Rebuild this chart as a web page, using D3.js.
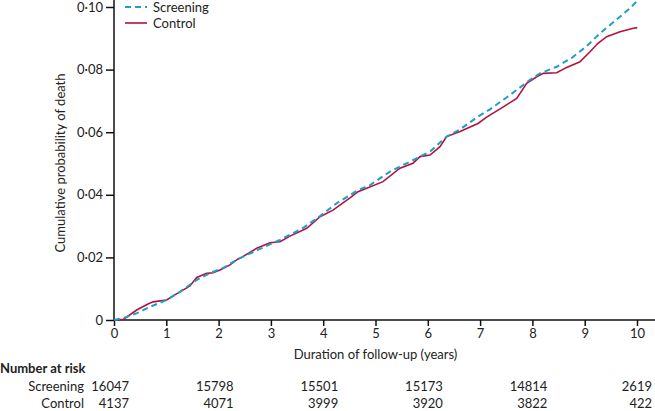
<!DOCTYPE html>
<html><head><meta charset="utf-8">
<script src="https://cdn.jsdelivr.net/npm/d3@7"></script>
<style>
html,body{margin:0;padding:0;background:#fff;}
svg{display:block;font-family:Lato,"Open Sans",sans-serif;}
</style></head>
<body><svg id="c" width="655" height="411"></svg>
<script>
// ---- data ----
const screeningYears = [0,0.172,0.440,0.688,1.008,1.262,1.581,1.836,2.084,2.371,2.792,3.174,3.614,3.939,4.258,4.665,4.895,5.277,5.660,6.042,6.361,6.616,6.960,7.189,7.572,7.954,8.145,8.465,8.782,9.038,9.293,9.675,9.866,10.0];
const screeningProb = [0,0.0006,0.0022,0.0042,0.0064,0.0090,0.0128,0.0150,0.0166,0.0195,0.0227,0.0256,0.0294,0.0332,0.0373,0.0415,0.0431,0.0474,0.0506,0.0538,0.0586,0.0609,0.0650,0.0673,0.0719,0.0767,0.0788,0.0809,0.0841,0.0875,0.0916,0.0969,0.0996,0.1019];
const controlYears = [0,0.178,0.434,0.650,0.746,0.880,1.008,1.128,1.262,1.453,1.581,1.772,1.893,2.027,2.218,2.371,2.409,2.728,2.983,3.174,3.365,3.685,3.939,4.187,4.512,4.665,4.832,5.143,5.468,5.717,5.851,6.042,6.233,6.361,6.616,6.960,7.126,7.444,7.700,7.891,8.082,8.208,8.465,8.656,8.910,9.101,9.254,9.421,9.675,9.929,10.006];
const controlProb = [0,0.0002,0.0032,0.0051,0.0058,0.0061,0.0064,0.0077,0.0090,0.0109,0.0136,0.0149,0.0151,0.0160,0.0176,0.0195,0.0197,0.0229,0.0247,0.0250,0.0268,0.0293,0.0330,0.0351,0.0390,0.0410,0.0421,0.0442,0.0485,0.0501,0.0522,0.0527,0.0554,0.0586,0.0602,0.0628,0.0648,0.0681,0.0708,0.0756,0.0777,0.0788,0.0790,0.0807,0.0825,0.0857,0.0884,0.0905,0.0921,0.0932,0.0934];
const xTicks = [0,1,2,3,4,5,6,7,8,9,10];
const yTicks = [0,0.02,0.04,0.06,0.08,0.10];
const riskYears = [0,2,4,6,8,10];
const screeningRisk = ["16047","15798","15501","15173","14814","2619"];
const controlRisk = ["4137","4071","3999","3920","3822","422"];
const seriesNames = ["Screening","Control"];
const seriesColors = ["#1c9ec6","#b3123e"];

// ---- drawing ----
const FS = 13;
const svg = d3.select("#c");
const x = d3.scaleLinear().domain([0,10]).range([114,637]);
const y = d3.scaleLinear().domain([0,0.10]).range([320,7]);
const fmtY = v => v === 0 ? "0" : d3.format(".2f")(v).replace(".", "\u00B7");

// axes
const xAxis = svg.append("g").attr("transform","translate(0,320)")
  .call(d3.axisBottom(x).tickValues(xTicks).tickSize(6).tickPadding(3).tickFormat(d3.format("d")));
xAxis.select(".domain").remove();
const yAxis = svg.append("g").attr("transform","translate(114,0)")
  .call(d3.axisLeft(y).tickValues(yTicks).tickSize(8).tickPadding(3).tickFormat(fmtY));
yAxis.select(".domain").remove();
[xAxis,yAxis].forEach(g=>{
  g.selectAll("text").attr("font-size",FS).attr("fill","#222").attr("font-family","Lato, 'Open Sans', sans-serif");
  g.selectAll("line").attr("stroke","#111").attr("stroke-width",1.5);
});
svg.append("line").attr("x1",114).attr("x2",655).attr("y1",320).attr("y2",320).attr("stroke","#111").attr("stroke-width",1.5);
svg.append("line").attr("x1",114).attr("x2",114).attr("y1",0).attr("y2",320.75).attr("stroke","#111").attr("stroke-width",1.5);

// lines
const lineGen = d3.line().x(d=>x(d[0])).y(d=>y(d[1]));
const ctrl = controlYears.map((t,i)=>[t,controlProb[i]]);
const scr = screeningYears.map((t,i)=>[t,screeningProb[i]]);
svg.append("path").attr("d",lineGen(ctrl)).attr("fill","none")
  .attr("stroke",seriesColors[1]).attr("stroke-width",1.6).attr("stroke-linejoin","miter");
svg.append("path").attr("d",lineGen(scr)).attr("fill","none")
  .attr("stroke",seriesColors[0]).attr("stroke-width",2).attr("stroke-dasharray","6,4");

// axis labels
svg.append("text").attr("x",(x(0)+x(10))/2).attr("y",359).attr("text-anchor","middle")
  .attr("font-size",FS).attr("fill","#222").text("Duration of follow-up (years)");
svg.append("text").attr("transform","translate(65,163) rotate(-90)").attr("text-anchor","middle")
  .attr("font-size",FS).attr("fill","#222").text("Cumulative probability of death");

// legend
const leg = svg.append("g");
seriesNames.forEach((n,i)=>{
  const yy = 7 + i*16;
  leg.append("line").attr("x1",125).attr("x2",147).attr("y1",yy).attr("y2",yy)
    .attr("stroke",seriesColors[i]).attr("stroke-width",i===0?2:1.6)
    .attr("stroke-dasharray",i===0?"6,4":null);
  leg.append("text").attr("x",153).attr("y",yy+4.5).attr("font-size",FS).attr("fill","#222").text(n);
});

// number at risk
svg.append("text").attr("x",0).attr("y",373).attr("font-size",FS).attr("font-weight","bold").attr("fill","#222").text("Number at risk");
[[seriesNames[0],screeningRisk,391],[seriesNames[1],controlRisk,408]].forEach(([n,arr,yy])=>{
  svg.append("text").attr("x",84).attr("y",yy).attr("text-anchor","end").attr("font-size",FS).attr("fill","#222").text(n);
  riskYears.forEach((t,i)=>{
    svg.append("text").attr("x",x(t)+15).attr("y",yy).attr("text-anchor","end")
      .attr("font-size",FS).attr("fill","#222").text(arr[i]);
  });
});
</script></body></html>
